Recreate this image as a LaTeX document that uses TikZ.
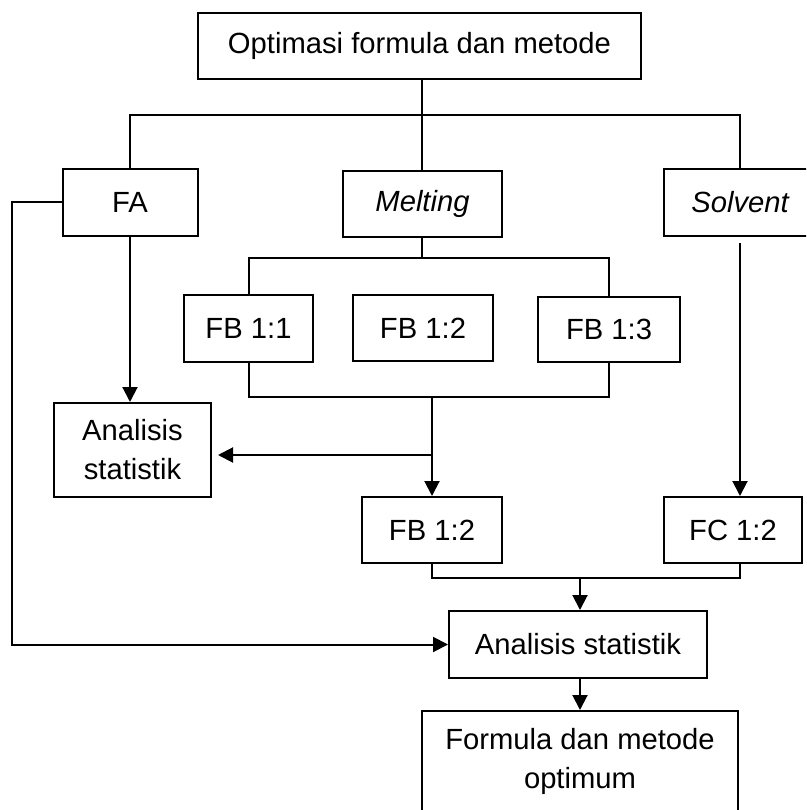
\documentclass[tikz,border=0pt]{standalone}
\usepackage{fontspec}
\setmainfont{Liberation Sans}
\usetikzlibrary{arrows.meta}
\begin{document}
\begin{tikzpicture}[x=1pt,y=-1pt,
  box/.style={draw, line width=2pt, inner sep=0pt, align=center, font=\fontsize{29.2}{39}\selectfont},
  conn/.style={line width=2pt},
  arr/.style={line width=2pt, -{Triangle[length=15pt,width=15pt]}}]
\useasboundingbox (0,0) rectangle (806,810);
\clip (0,0) rectangle (806,810);
\node[box, minimum width=443pt, minimum height=66pt] (top) at (419.5,46) {Optimasi formula dan metode};
\node[box, minimum width=135pt, minimum height=67pt] (fa) at (130,202.5) {FA};
\node[box, minimum width=159pt, minimum height=66pt] (melt) at (422.5,204) {\itshape Melting};
\node[box, minimum width=152pt, minimum height=67pt] (solv) at (740,202.5) {\itshape Solvent};
\node[box, minimum width=129pt, minimum height=67pt] (fb11) at (248.5,328.5) {FB 1:1};
\node[box, minimum width=140pt, minimum height=66pt] (fb12) at (423,328) {FB 1:2};
\node[box, minimum width=142pt, minimum height=65pt] (fb13) at (609,329.5) {FB 1:3};
\node[box, minimum width=157pt, minimum height=94pt] (as1) at (132.5,450) {Analisis\\statistik};
\node[box, minimum width=140pt, minimum height=66pt] (fb12b) at (432,530) {FB 1:2};
\node[box, minimum width=138pt, minimum height=66pt] (fc) at (733,530) {FC 1:2};
\node[box, minimum width=258pt, minimum height=67pt] (as2) at (578,644.5) {Analisis statistik};
\node[box, minimum width=316pt, minimum height=100pt] (form) at (580,761) {Formula dan metode\\optimum};
% coordinates
\coordinate (hb) at (422,115);
\coordinate (mb) at (422,258);
\coordinate (bb) at (432,397);
\coordinate (jb) at (432,455);
\coordinate (cb) at (580,578);
\coordinate (lft) at (12,400);
% top split
\draw[conn] (top.south -| hb) -- (hb |- melt.north);
\draw[conn] (fa.north) |- (hb) -| (solv.north);
% melting split
\draw[conn] (melt.south -| mb) -- (mb);
\draw[conn] (fb11.north) |- (mb) -| (fb13.north);
% merge of FB
\draw[conn] (fb11.south) |- (bb) -| (fb13.south);
\draw[arr] (bb) -- (fb12b.north);
\draw[arr] (jb) -- ([xshift=6pt]as1.east |- jb);
% FA down
\draw[arr] (fa.south) -- (fa.south |- as1.north);
% solvent down
\draw[arr] ([yshift=-6pt]solv.south) -- (solv.south |- fc.north);
% merge FB12 & FC
\draw[conn] (fb12b.south) |- (cb) -| (solv.south |- fc.south);
\draw[arr] (cb) -- (cb |- as2.north);
\draw[arr] (cb |- as2.south) -- (cb |- form.north);
% left loop
\draw[arr] (fa.west) -| (lft) |- (as2.west);
\end{tikzpicture}
\end{document}
